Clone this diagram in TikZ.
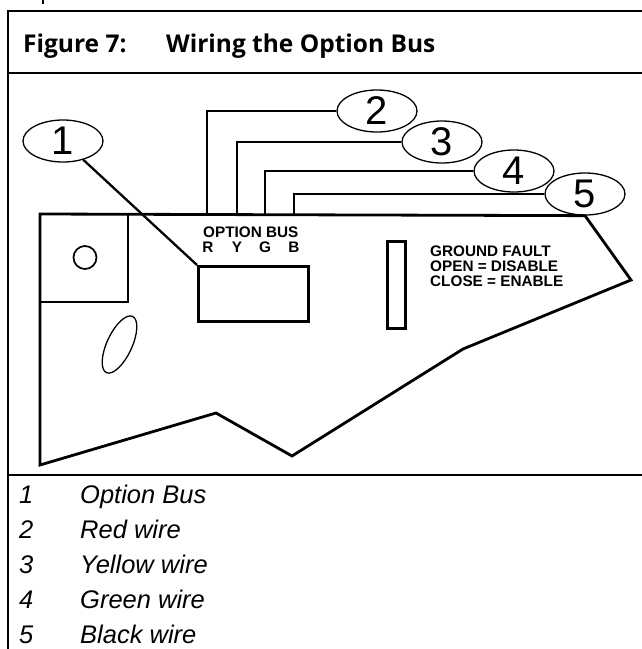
\documentclass[tikz,border=0pt]{standalone}
\usepackage{fontspec}
\setmainfont{Liberation Sans}
\newfontfamily\titlefont{Open Sans}
\usetikzlibrary{shapes.geometric}
\begin{document}
\begin{tikzpicture}[x=1pt,y=-1pt,
  frame/.style={line width=2pt},
  board/.style={line width=2.8pt, line join=miter},
  wire/.style={line width=2.8pt},
  part/.style={draw, line width=2.7pt, inner sep=0pt},
  bubble/.style={ellipse, draw, line width=1.3pt, minimum width=80pt, minimum height=42pt, inner sep=0pt, font=\fontsize{40}{40}\selectfont},
  lbl/.style={font=\bfseries\fontsize{15.3}{15.3}\selectfont, inner sep=0pt},
  legend/.style={font=\itshape\fontsize{25.5}{25.5}\selectfont, inner sep=0pt, anchor=base west},
  titletext/.style={font=\titlefont\bfseries\fontsize{24.5}{24.5}\selectfont, inner sep=0pt, anchor=base west},
]
\useasboundingbox (0,0) rectangle (642,649);
% header fragment and frame
\draw[frame] (43,0) -- (43,4);
\draw[frame] (642,11) -- (8,11) -- (8,652);
\draw[frame] (8,73) -- (642,73);
\draw[frame] (8,475) -- (642,475);
% title
\node[titletext] (t1) at (23,52) {Figure 7:};
\node[titletext] (t2) at (166,52) {Wiring the Option Bus};
% bubbles
\node[bubble] (b1) at (63,141) {1};
\node[bubble] (b2) at (377,111) {2};
\node[bubble] (b3) at (442,142) {3};
\node[bubble] (b4) at (514,171) {4};
\node[bubble] (b5) at (585,194) {5};
% board outline
\coordinate (tl) at (40,214);
\coordinate (c1) at (631,280);
\coordinate (c2) at (463,349);
\coordinate (c3) at (292,456);
\coordinate (c4) at (216,413);
\coordinate (c5) at (40,465);
\draw[board] (tl) -- (b5.south) -- (c1) -- (c2) -- (c3) -- (c4) -- (c5) -- cycle;
\draw[board] (tl) rectangle (128,302);
\draw[line width=1.7pt] (85,257.5) circle[radius=11.5];
\draw[line width=1.3pt, rotate around={65:(119.5,344.5)}] (119.5,344.5) ellipse [x radius=31, y radius=12.5];
% parts
\node[part, anchor=north west, minimum width=110pt, minimum height=55pt] (opt) at (197,265) {};
\node[part, anchor=north west, minimum width=18pt, minimum height=87pt] (jp) at (386,240) {};
% wires
\coordinate (wR) at (207,214);
\coordinate (wY) at (237,214);
\coordinate (wG) at (265,214);
\coordinate (wB) at (294,214);
\draw[wire] (wR) |- (b2.west);
\draw[wire] (wY) |- (b3.west);
\draw[wire] (wG) |- (b4.west);
\draw[wire] (wB) |- (b5.west);
\draw[line width=2.3pt] (b1) -- (opt.north west);
% labels
\node[lbl, anchor=base west] (ob) at (203,237) {OPTION BUS};
\node[lbl, anchor=base] (lr) at (208,252) {R};
\node[lbl, anchor=base] (ly) at (237,252) {Y};
\node[lbl, anchor=base] (lg) at (265,252) {G};
\node[lbl, anchor=base] (lb) at (294,252) {B};
\node[lbl, anchor=base west] (gf1) at (430,256) {GROUND FAULT};
\node[lbl, anchor=base west] (gf2) at (430,271) {OPEN = DISABLE};
\node[lbl, anchor=base west] (gf3) at (430,286) {CLOSE = ENABLE};
% legend
\node[legend] (n1) at (19,503) {1};
\node[legend] (n2) at (19,538) {2};
\node[legend] (n3) at (19,573) {3};
\node[legend] (n4) at (19,608) {4};
\node[legend] (n5) at (19,643) {5};
\node[legend] (e1) at (80,503) {Option Bus};
\node[legend] (e2) at (80,538) {Red wire};
\node[legend] (e3) at (80,573) {Yellow wire};
\node[legend] (e4) at (80,608) {Green wire};
\node[legend] (e5) at (80,643) {Black wire};
\end{tikzpicture}
\end{document}
